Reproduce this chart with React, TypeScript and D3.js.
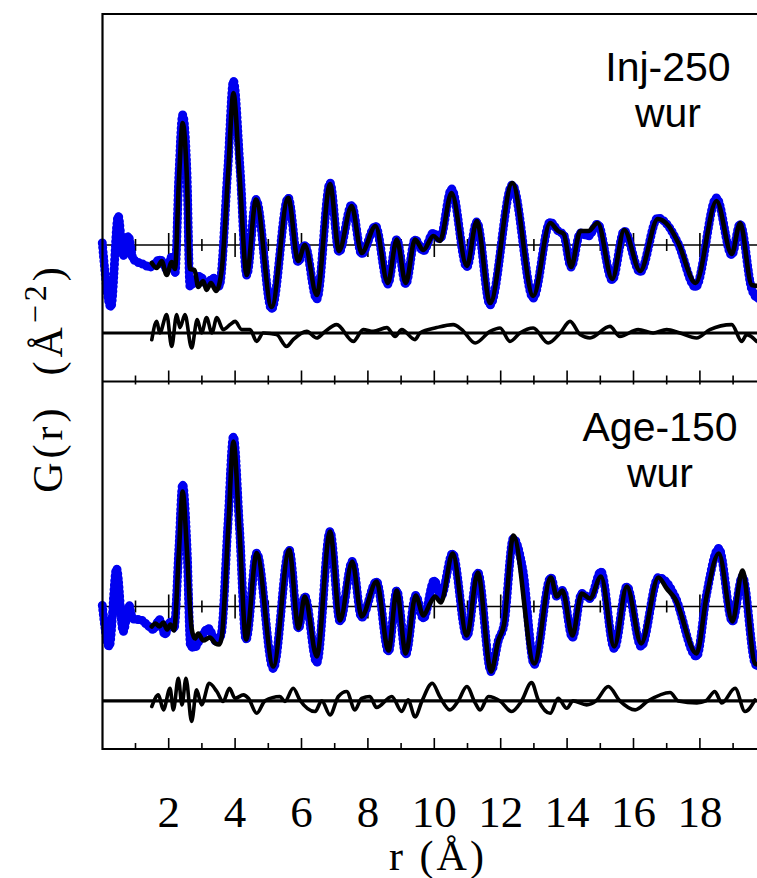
import React from 'react';
import * as d3 from 'd3';

const W = 757;
const H = 878;

const rTickValues = [2, 4, 6, 8, 10, 12, 14, 16, 18];
const rTickLabels = ['2', '4', '6', '8', '10', '12', '14', '16', '18'];
const minorTickValues = [1, 3, 5, 7, 9, 11, 13, 15, 17, 19];

const xLabel = 'r (Å)';
const yLabelMain = 'G(r)  (Å';
const yLabelSup = '−2';

const topLabels = ['Inj-250', 'wur'];
const bottomLabels = ['Age-150', 'wur'];

// Inj-250: data (blue), fit (black), difference (black, offset)
const injData: [number, number][] = [
  [0.0, 0.1], [0.26, -3.1], [0.48, 1.45], [0.63, -0.55], [0.78, 0.45], [0.93, -0.7],
  [1.24, -0.97], [1.44, -1.1], [1.74, -0.73], [1.94, -1.2], [2.09, -0.6], [2.19, -1.4],
  [2.31, 3.6], [2.42, 6.5], [2.55, 3.6], [2.64, -2.05], [2.94, -1.55], [3.14, -1.97],
  [3.34, -1.65], [3.52, -2.05], [3.78, 3.8], [3.95, 8.2], [4.15, 3.8], [4.35, -1.5],
  [4.63, 2.27], [5.1, -3.2], [5.6, 2.36], [5.9, -0.85], [6.1, 0.0], [6.46, -2.7],
  [6.86, 3.1], [7.13, -0.35], [7.51, 2.0], [7.81, -0.45], [8.23, 0.95], [8.6, -1.95],
  [8.87, 0.27], [9.14, -1.95], [9.42, 0.27], [9.67, -0.3], [9.97, 0.6], [10.17, 0.3],
  [10.52, 2.8], [10.98, -1.1], [11.28, 1.15], [11.68, -3.0], [12.35, 3.0], [12.98, -2.65],
  [13.49, 1.15], [13.73, 0.7], [13.9, 0.5], [14.12, -1.1], [14.4, 0.6], [14.64, 0.45],
  [14.92, 1.05], [15.36, -1.75], [15.72, 0.7], [16.2, -1.35], [16.73, 1.35], [17.05, 0.95],
  [17.35, 0.05], [17.87, -2.1], [18.5, 2.35], [18.96, -0.5], [19.21, 1.05], [19.56, -2.2],
  [19.75, -2.7],
];

const injFit: [number, number][] = [
  [1.49, -0.9], [1.64, -1.15], [1.79, -0.8], [1.94, -1.5], [2.09, -0.85], [2.19, -1.2],
  [2.31, 3.3], [2.42, 6.1], [2.55, 3.3], [2.64, -1.2], [2.78, -1.25], [2.89, -2.1],
  [3.04, -1.8], [3.14, -2.25], [3.27, -1.9], [3.43, -2.3], [3.6, -1.2], [3.79, 3.6],
  [3.95, 7.6], [4.13, 3.6], [4.35, -1.5], [4.63, 2.27], [5.1, -3.1], [5.6, 2.36],
  [5.9, -0.8], [6.1, 0.0], [6.46, -2.5], [6.86, 3.05], [7.13, -0.3], [7.51, 1.95],
  [7.81, -0.4], [8.23, 0.95], [8.6, -1.9], [8.87, 0.27], [9.14, -1.9], [9.42, 0.27],
  [9.67, -0.25], [9.97, 0.45], [10.17, 0.2], [10.52, 2.6], [10.98, -1.05], [11.28, 1.2],
  [11.68, -2.9], [12.35, 3.1], [12.98, -2.55], [13.49, 1.1], [13.73, 0.7], [13.9, 0.55],
  [14.12, -1.1], [14.4, 0.7], [14.64, 0.7], [14.92, 1.1], [15.36, -1.7], [15.72, 0.75],
  [16.2, -1.3], [16.73, 1.3], [17.05, 0.97], [17.35, 0.1], [17.87, -1.9], [18.5, 2.2],
  [18.96, -0.45], [19.21, 1.1], [19.56, -2.0], [19.75, -2.05],
];

const injDiff: [number, number][] = [
  [1.49, -0.34], [1.64, 0.58], [1.73, 0.0], [1.94, 0.92], [2.09, -0.67], [2.24, 0.92],
  [2.34, 0.27], [2.49, 0.92], [2.69, -0.75], [2.86, 0.67], [2.99, 0.0], [3.14, 0.77],
  [3.3, 0.0], [3.45, 0.77], [3.64, 0.17], [3.85, 0.42], [4.0, 0.58], [4.2, 0.17],
  [4.45, 0.17], [4.65, -0.42], [4.85, 0.0], [5.25, -0.08], [5.55, -0.67], [5.75, -0.33],
  [6.16, 0.08], [6.46, -0.25], [6.66, 0.0], [7.06, 0.42], [7.56, -0.42], [7.86, 0.17],
  [8.16, 0.08], [8.57, 0.27], [8.82, -0.17], [9.02, 0.17], [9.42, -0.33], [9.57, 0.0],
  [10.07, 0.27], [10.57, 0.42], [10.83, 0.17], [11.23, -0.5], [11.68, 0.08], [11.98, 0.25],
  [12.28, -0.42], [12.58, 0.0], [12.98, 0.25], [13.43, -0.5], [13.79, 0.0], [14.09, 0.58],
  [14.39, -0.08], [14.69, -0.25], [15.29, 0.33], [15.59, -0.17], [16.14, 0.17], [16.59, 0.0],
  [17.0, 0.17], [17.4, 0.0], [17.9, -0.25], [18.3, 0.17], [18.96, 0.42], [19.26, -0.42],
  [19.41, -0.08], [19.71, -0.42],
];

// Age-150
const ageData: [number, number][] = [
  [0.0, 0.05], [0.21, -2.0], [0.43, 1.9], [0.63, -1.25], [0.81, 0.05], [0.87, -0.4],
  [0.98, -0.65], [1.13, -0.65], [1.34, -0.9], [1.54, -1.15], [1.72, -0.65], [1.89, -1.4],
  [2.04, -0.75], [2.16, -1.1], [2.31, 3.0], [2.42, 6.1], [2.55, 3.0], [2.66, -2.0],
  [2.78, -2.05], [2.94, -1.65], [3.19, -1.1], [3.44, -1.75], [3.58, -1.4], [3.78, 4.0],
  [3.95, 8.5], [4.13, 4.0], [4.33, -1.65], [4.65, 2.67], [5.15, -3.1], [5.63, 2.83],
  [5.91, -1.1], [6.1, 0.5], [6.46, -2.8], [6.86, 3.75], [7.16, -0.75], [7.53, 2.25],
  [7.81, -0.55], [8.26, 1.25], [8.62, -2.25], [8.87, 0.8], [9.14, -2.4], [9.44, 0.55],
  [9.67, -0.6], [10.0, 1.3], [10.2, 0.5], [10.55, 2.65], [10.98, -1.5], [11.31, 1.7],
  [11.71, -3.25], [11.93, -1.7], [12.1, -0.9], [12.38, 3.4], [12.67, 1.8], [13.01, -2.9],
  [13.51, 1.45], [13.69, 0.5], [13.86, 0.8], [14.16, -1.55], [14.44, 0.65], [14.69, 0.4],
  [15.02, 1.75], [15.42, -2.1], [15.8, 1.0], [16.23, -2.0], [16.75, 1.45], [17.0, 1.2],
  [17.25, 0.5], [17.9, -2.5], [18.2, 0.6], [18.57, 2.9], [18.98, -0.75], [19.28, 1.5],
  [19.66, -2.85], [19.75, -3.0],
];

const ageFit: [number, number][] = [
  [1.49, -1.0], [1.6, -0.85], [1.72, -1.0], [1.84, -0.8], [1.95, -1.15], [2.05, -0.9],
  [2.16, -1.2], [2.31, 2.8], [2.42, 5.75], [2.55, 2.8], [2.69, -1.1], [2.79, -1.6],
  [2.89, -1.35], [3.04, -1.7], [3.24, -1.55], [3.41, -1.85], [3.52, -1.9], [3.6, -1.5],
  [3.79, 3.8], [3.95, 8.25], [4.13, 3.8], [4.33, -1.65], [4.65, 2.67], [5.15, -3.0],
  [5.63, 2.83], [5.91, -1.08], [6.1, 0.5], [6.46, -2.5], [6.86, 3.75], [7.16, -0.7],
  [7.53, 2.25], [7.81, -0.5], [8.26, 1.25], [8.62, -2.2], [8.87, 0.8], [9.14, -2.35],
  [9.44, 0.55], [9.67, -0.45], [9.87, 0.15], [10.02, 0.5], [10.2, 0.2], [10.55, 2.65],
  [10.98, -1.45], [11.31, 1.7], [11.71, -3.25], [11.93, -1.7], [12.1, -0.9], [12.38, 3.55],
  [13.01, -2.85], [13.51, 1.45], [13.69, 0.5], [13.86, 0.8], [14.16, -1.45], [14.44, 0.65],
  [14.69, 0.4], [15.02, 1.5], [15.42, -2.0], [15.8, 1.0], [16.23, -1.85], [16.75, 1.45],
  [17.0, 0.9], [17.25, 0.4], [17.9, -2.35], [18.2, 0.5], [18.57, 2.65], [18.98, -0.75],
  [19.28, 1.8], [19.66, -2.85], [19.75, -2.9],
];

const ageDiff: [number, number][] = [
  [1.49, -0.28], [1.69, 0.3], [1.84, -0.45], [2.04, 0.63], [2.14, -0.45], [2.29, 1.13],
  [2.4, -0.2], [2.52, 1.13], [2.69, -1.03], [2.84, 0.55], [2.99, -0.2], [3.22, 0.88],
  [3.45, 0.47], [3.64, -0.03], [3.83, 0.63], [4.0, 0.13], [4.25, 0.3], [4.4, 0.13],
  [4.65, -0.62], [4.9, 0.0], [5.35, 0.22], [5.5, -0.03], [5.75, 0.63], [5.95, 0.05],
  [6.41, -0.53], [6.61, 0.0], [6.86, -0.7], [7.11, 0.22], [7.36, 0.47], [7.61, -0.45],
  [7.81, 0.13], [8.06, 0.22], [8.26, -0.33], [8.72, 0.22], [9.02, -0.53], [9.21, 0.05],
  [9.42, -0.8], [9.63, 0.0], [9.94, 0.88], [10.17, 0.2], [10.47, -0.45], [10.72, 0.0],
  [10.98, 0.72], [11.23, -0.1], [11.38, -0.45], [11.63, 0.22], [11.98, 0.0], [12.33, -0.53],
  [12.63, 0.0], [12.93, 0.92], [13.13, 0.05], [13.49, -0.62], [13.73, 0.13], [13.99, -0.37],
  [14.18, 0.0], [14.59, -0.2], [14.87, 0.0], [15.24, 0.72], [15.59, 0.0], [16.05, -0.45],
  [16.44, 0.0], [17.1, 0.42], [17.35, 0.0], [17.91, -0.1], [18.18, 0.0], [18.45, 0.47],
  [18.66, -0.1], [19.06, 0.63], [19.36, -0.53], [19.66, 0.05],
];

const diffOffsets = [-4.4, -4.72];

const x = d3.scaleLinear().domain([0, 20]).range([102.3, 766.3]);

const panels = [
  {
    y: d3.scaleLinear().domain([-6.85, 11.55]).range([382, 14]),
    data: injData, fit: injFit, diff: injDiff, offset: diffOffsets[0],
    labels: topLabels, labelX: 668, labelY: 81, top: 14, bottom: 381.5,
  },
  {
    y: d3.scaleLinear().domain([-7.125, 11.225]).range([749, 382]),
    data: ageData, fit: ageFit, diff: ageDiff, offset: diffOffsets[1],
    labels: bottomLabels, labelX: 660, labelY: 441, top: 381.5, bottom: 749,
  },
];

export default function App() {
  const left = 102.5;
  const right = W;
  return (
    <svg width={W} height={H} style={{ position: 'absolute', left: 0, top: 0, background: '#fff' }}>
      <rect x={0} y={0} width={W} height={H} fill="#fff" />
      {panels.map((p, i) => {
        const line = d3.line<[number, number]>()
          .x(d => x(d[0]))
          .y(d => p.y(d[1]))
          .curve(d3.curveMonotoneX);
        const diffLine = d3.line<[number, number]>()
          .x(d => x(d[0]))
          .y(d => p.y(d[1] + p.offset))
          .curve(d3.curveMonotoneX);
        const y0 = p.y(0);
        const yd = p.y(p.offset);
        const ticks = d3.range(1, 20);
        const dataPath = line(p.data) || '';
        return (
          <g key={i}>
            {/* zero line */}
            <line x1={left} x2={right} y1={y0} y2={y0} stroke="#000" strokeWidth={1.7} />
            {ticks.map(t => {
              const h = t % 2 === 0 ? 12 : 6;
              return <line key={t} x1={x(t)} x2={x(t)} y1={y0 - h} y2={y0 + h} stroke="#000" strokeWidth={1.6} />;
            })}
            {/* data: dense markers */}
            <path d={dataPath} fill="none" stroke="#0000f0" strokeWidth={7.5} strokeLinejoin="round" strokeLinecap="round" />
            <path d={dataPath} fill="none" stroke="#0000f0" strokeWidth={9} strokeDasharray="0 4.5" strokeLinecap="round" />
            {/* fit */}
            <path d={line(p.fit) || ''} fill="none" stroke="#000" strokeWidth={4.6} strokeLinejoin="round" strokeLinecap="round" />
            {/* difference baseline + curve */}
            <line x1={left} x2={right} y1={yd} y2={yd} stroke="#000" strokeWidth={3.2} />
            <path d={diffLine(p.diff) || ''} fill="none" stroke="#000" strokeWidth={3.6} strokeLinejoin="round" strokeLinecap="round" />
            {/* frame ticks at panel bottom (inward, upward) */}
            {rTickValues.map(t => (
              <line key={'M' + t} x1={x(t)} x2={x(t)} y1={p.bottom} y2={p.bottom - 11} stroke="#000" strokeWidth={1.6} />
            ))}
            {minorTickValues.map(t => (
              <line key={'m' + t} x1={x(t)} x2={x(t)} y1={p.bottom} y2={p.bottom - 6} stroke="#000" strokeWidth={1.6} />
            ))}
            {i === 1 && [...rTickValues, ...minorTickValues].map(t => (
              <line key={'t' + t} x1={x(t)} x2={x(t)} y1={p.top} y2={p.top + 3} stroke="#000" strokeWidth={1.6} />
            ))}
            {/* panel label (two lines) */}
            <text x={p.labelX} y={p.labelY} textAnchor="middle"
              fontFamily="'Liberation Sans', Arial, sans-serif" fontSize={41} fill="#000">
              <tspan x={p.labelX}>{p.labels[0]}</tspan>
              <tspan x={p.labelX} dy={46}>{p.labels[1]}</tspan>
            </text>
          </g>
        );
      })}
      {/* frame */}
      <line x1={left} x2={right} y1={14} y2={14} stroke="#000" strokeWidth={2.2} />
      <line x1={left} x2={right} y1={381.5} y2={381.5} stroke="#000" strokeWidth={2.2} />
      <line x1={left} x2={right} y1={749} y2={749} stroke="#000" strokeWidth={2.2} />
      <line x1={left} x2={left} y1={13} y2={750} stroke="#000" strokeWidth={2.2} />
      {/* x tick labels */}
      {rTickValues.map((t, i) => (
        <text key={t} x={x(t)} y={827} textAnchor="middle" fontFamily="'Liberation Serif', serif" fontSize={45} fill="#000">
          {rTickLabels[i]}
        </text>
      ))}
      <text x={438} y={870} textAnchor="middle" fontFamily="'Liberation Serif', serif" fontSize={42} letterSpacing={3} fill="#000">{xLabel}</text>
      {/* y label */}
      <text transform="translate(62,378) rotate(-90)" textAnchor="middle" fontFamily="'Liberation Serif', serif" fontSize={42} letterSpacing={4} fill="#000" style={{ whiteSpace: 'pre' }}>
        {yLabelMain}
        <tspan fontSize={32} dy={-16}>{yLabelSup}</tspan>
        <tspan dy={16}>)</tspan>
      </text>
    </svg>
  );
}
